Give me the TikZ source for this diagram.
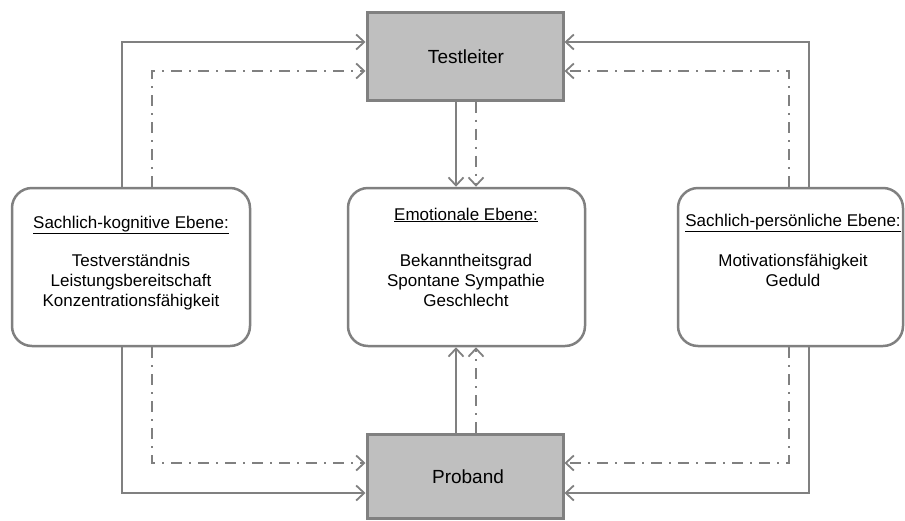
\documentclass[tikz,border=0pt]{standalone}
\usepackage{fontspec}
\setmainfont{Liberation Sans}
\usetikzlibrary{arrows.meta}
\definecolor{lgray}{HTML}{808080}
\definecolor{bfill}{HTML}{BFBFBF}
\begin{document}
\begin{tikzpicture}[x=1pt,y=-1pt,
  mainbox/.style={draw=lgray,fill=bfill,line width=3pt,minimum width=196pt,inner sep=0pt},
  levelbox/.style={draw=lgray,line width=2.5pt,rounded corners=20pt,minimum height=158pt,inner sep=0pt},
  conn/.style={draw=lgray,line width=1.8pt,-{Straight Barb[length=8pt,width=15pt,line width=1.8pt]}},
  solidc/.style={conn},
  dashc/.style={conn,dash pattern=on 11pt off 7pt on 2pt off 7pt},
  bigtxt/.style={font=\fontsize{19}{23}\selectfont,inner sep=0pt},
  txt/.style={font=\fontsize{17}{20}\selectfont,inner sep=0pt,align=center}
]
\useasboundingbox (0,0) rectangle (905,520);

% main boxes
\node[mainbox,minimum height=88pt] (TL) at (465,56) {};
\node[bigtxt,anchor=base] (TLt) at (466,63) {Testleiter};
\node[mainbox,minimum height=84pt] (PB) at (465,476) {};
\node[bigtxt,anchor=base] (PBt) at (468,483) {Proband};

% level boxes
\node[levelbox,minimum width=238pt] (LB) at (131,267) {};
\node[levelbox,minimum width=237pt] (CB) at (466.5,267) {};
\node[levelbox,minimum width=225pt] (RB) at (790.5,267) {};

% texts
\node[txt,anchor=base] (LBh) at (131,228) {\underline{Sachlich-kognitive Ebene:}};
\node[txt,anchor=north] (LBb) at (131,254) {Testverständnis\\Leistungsbereitschaft\\Konzentrationsfähigkeit};
\node[txt,anchor=base] (CBh) at (466,220) {\underline{Emotionale Ebene:}};
\node[txt,anchor=north] (CBb) at (466,254) {Bekanntheitsgrad\\Spontane Sympathie\\Geschlecht};
\node[txt,anchor=base] (RBh) at (793,226) {\underline{Sachlich-persönliche Ebene:}};
\node[txt,anchor=north] (RBb) at (793,254) {Motivationsfähigkeit\\Geduld};

% reference coordinates
\coordinate (xL) at (122,0);
\coordinate (xLd) at (152,0);
\coordinate (xR) at (809,0);
\coordinate (xRd) at (789,0);
\coordinate (xC) at (456,0);
\coordinate (xCd) at (476,0);
\coordinate (yT) at (0,42);
\coordinate (yTd) at (0,71);
\coordinate (yB) at (0,493);
\coordinate (yBd) at (0,463);

% left side
\draw[solidc] (LB.north -| xL) |- (TL.west |- yT);
\draw[dashc] (LB.north -| xLd) |- (TL.west |- yTd);
\draw[solidc] (LB.south -| xL) |- (PB.west |- yB);
\draw[dashc] (LB.south -| xLd) |- (PB.west |- yBd);

% right side
\draw[solidc] (RB.north -| xR) |- (TL.east |- yT);
\draw[dashc] (RB.north -| xRd) |- (TL.east |- yTd);
\draw[solidc] (RB.south -| xR) |- (PB.east |- yB);
\draw[dashc] (RB.south -| xRd) |- (PB.east |- yBd);

% centre
\draw[solidc] (TL.south -| xC) -- (CB.north -| xC);
\draw[dashc] (TL.south -| xCd) -- (CB.north -| xCd);
\draw[solidc] (PB.north -| xC) -- (CB.south -| xC);
\draw[dashc] (PB.north -| xCd) -- (CB.south -| xCd);
\end{tikzpicture}
\end{document}
